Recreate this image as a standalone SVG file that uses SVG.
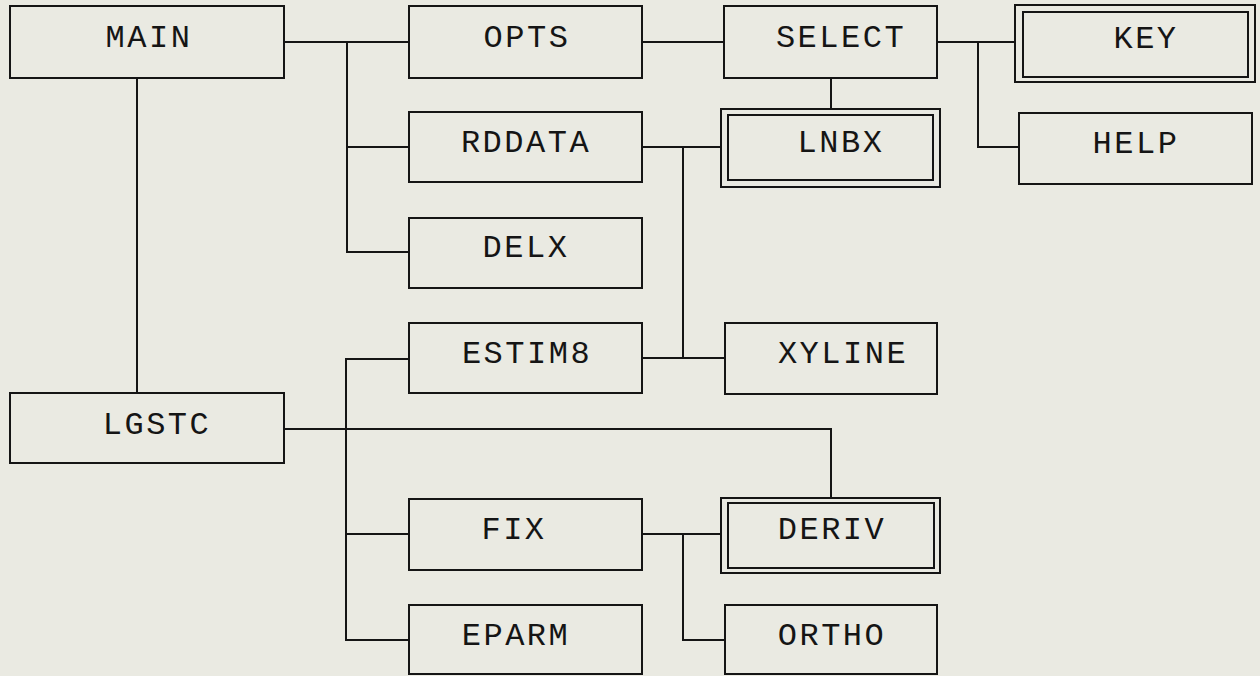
<svg xmlns="http://www.w3.org/2000/svg" width="1260" height="676" viewBox="0 0 1260 676">
  <style>
    .box { fill: none; stroke: #151515; stroke-width: 2; }
    .wire { fill: none; stroke: #151515; stroke-width: 2; stroke-linejoin: miter; }
    .lbl { font-family: "Liberation Mono", "DejaVu Sans Mono", monospace; font-size: 32px; letter-spacing: 2.5px; fill: #151515; text-anchor: middle; }
  </style>
  <rect width="1260" height="676" fill="#eaeae2"/>

  <!-- call-tree wiring -->
  <g id="connectors" class="wire">
    <path d="M284,42 H409"/>
    <path d="M347,42 V252 H409 M347,147 H409"/>
    <path d="M137,78 V393"/>
    <path d="M642,42 H724"/>
    <path d="M831,78 V109"/>
    <path d="M937,42 H1015 M978,42 V147 H1019"/>
    <path d="M642,147 H721 M683,147 V358 M642,358 H725"/>
    <path d="M284,429 H831 V498"/>
    <path d="M409,359 H346 V640 H409 M346,534 H409"/>
    <path d="M642,534 H721 M683,534 V640 H725"/>
  </g>

  <g id="MAIN"><rect class="box" x="10" y="6" width="274" height="72"/><text class="lbl" x="149" y="47">MAIN</text></g>
  <g id="OPTS"><rect class="box" x="409" y="6" width="233" height="72"/><text class="lbl" x="527" y="47">OPTS</text></g>
  <g id="SELECT"><rect class="box" x="724" y="6" width="213" height="72"/><text class="lbl" x="841" y="47">SELECT</text></g>
  <g id="KEY"><rect class="box" x="1015" y="5" width="240" height="77"/><rect class="box" x="1023" y="12" width="225" height="65"/><text class="lbl" x="1146" y="48">KEY</text></g>
  <g id="RDDATA"><rect class="box" x="409" y="112" width="233" height="70"/><text class="lbl" x="526" y="152">RDDATA</text></g>
  <g id="LNBX"><rect class="box" x="721" y="109" width="219" height="78"/><rect class="box" x="728" y="115" width="205" height="65"/><text class="lbl" x="841" y="152">LNBX</text></g>
  <g id="HELP"><rect class="box" x="1019" y="113" width="233" height="71"/><text class="lbl" x="1136" y="153">HELP</text></g>
  <g id="DELX"><rect class="box" x="409" y="218" width="233" height="70"/><text class="lbl" x="526" y="257">DELX</text></g>
  <g id="ESTIM8"><rect class="box" x="409" y="323" width="233" height="70"/><text class="lbl" x="527" y="363">ESTIM8</text></g>
  <g id="XYLINE"><rect class="box" x="725" y="323" width="212" height="71"/><text class="lbl" x="843" y="363">XYLINE</text></g>
  <g id="LGSTC"><rect class="box" x="10" y="393" width="274" height="70"/><text class="lbl" x="157" y="434">LGSTC</text></g>
  <g id="FIX"><rect class="box" x="409" y="499" width="233" height="71"/><text class="lbl" x="514" y="539">FIX</text></g>
  <g id="DERIV"><rect class="box" x="721" y="498" width="219" height="75"/><rect class="box" x="728" y="503" width="206" height="65"/><text class="lbl" x="832" y="539">DERIV</text></g>
  <g id="EPARM"><rect class="box" x="409" y="605" width="233" height="69"/><text class="lbl" x="516" y="645">EPARM</text></g>
  <g id="ORTHO"><rect class="box" x="725" y="605" width="212" height="69"/><text class="lbl" x="832" y="645">ORTHO</text></g>
</svg>
